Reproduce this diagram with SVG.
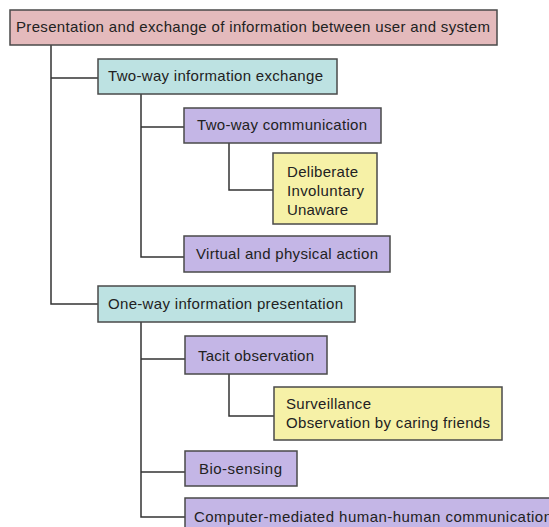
<svg xmlns="http://www.w3.org/2000/svg" width="549" height="527" viewBox="0 0 549 527">
<style>
.n rect{stroke:#4a4a4a;stroke-width:1.5}
.r{fill:#e4babc}
.t{fill:#bde2e2}
.p{fill:#c4b6e6}
.y{fill:#f6f1a7}
text{font-family:"Liberation Sans",Arial,sans-serif;font-size:15px;fill:#222}
#connectors path{fill:none;stroke:#333;stroke-width:1.5}
</style>
<rect width="549" height="527" fill="#fff"/>
<g id="connectors">
<path d="M51 45V304H98M51 78H98"/>
<path d="M141 94V257H184M141 127H184"/>
<path d="M229 143V190H273"/>
<path d="M141 322V517H185M141 359H185M141 472H185"/>
<path d="M229 374V416H274"/>
</g>
<g id="root" class="n"><rect class="r" x="10" y="10" width="487" height="35"/><text x="16" y="32" textLength="474">Presentation and exchange of information between user and system</text></g>
<g id="twoway" class="n"><rect class="t" x="98" y="59" width="239" height="35"/><text x="108" y="81" textLength="215">Two-way information exchange</text></g>
<g id="twowaycomm" class="n"><rect class="p" x="184" y="108" width="197" height="35"/><text x="197" y="130" textLength="170">Two-way communication</text></g>
<g id="modes" class="n"><rect class="y" x="273" y="153" width="104" height="71"/><text x="287" y="177" textLength="71">Deliberate</text><text x="287" y="196" textLength="77">Involuntary</text><text x="287" y="215" textLength="61">Unaware</text></g>
<g id="virtual" class="n"><rect class="p" x="184" y="236" width="206" height="36"/><text x="196" y="259" textLength="182">Virtual and physical action</text></g>
<g id="oneway" class="n"><rect class="t" x="98" y="286" width="257" height="36"/><text x="108" y="309" textLength="235">One-way information presentation</text></g>
<g id="tacit" class="n"><rect class="p" x="185" y="336" width="142" height="38"/><text x="198" y="361" textLength="116">Tacit observation</text></g>
<g id="surveillance" class="n"><rect class="y" x="274" y="387" width="228" height="53"/><text x="286" y="409" textLength="85">Surveillance</text><text x="286" y="428" textLength="204">Observation by caring friends</text></g>
<g id="bio" class="n"><rect class="p" x="185" y="451" width="112" height="35"/><text x="199" y="474" textLength="83">Bio-sensing</text></g>
<g id="cmc" class="n"><rect class="p" x="185" y="498" width="380" height="40"/><text x="194" y="522" textLength="358">Computer-mediated human-human communication</text></g>
</svg>
